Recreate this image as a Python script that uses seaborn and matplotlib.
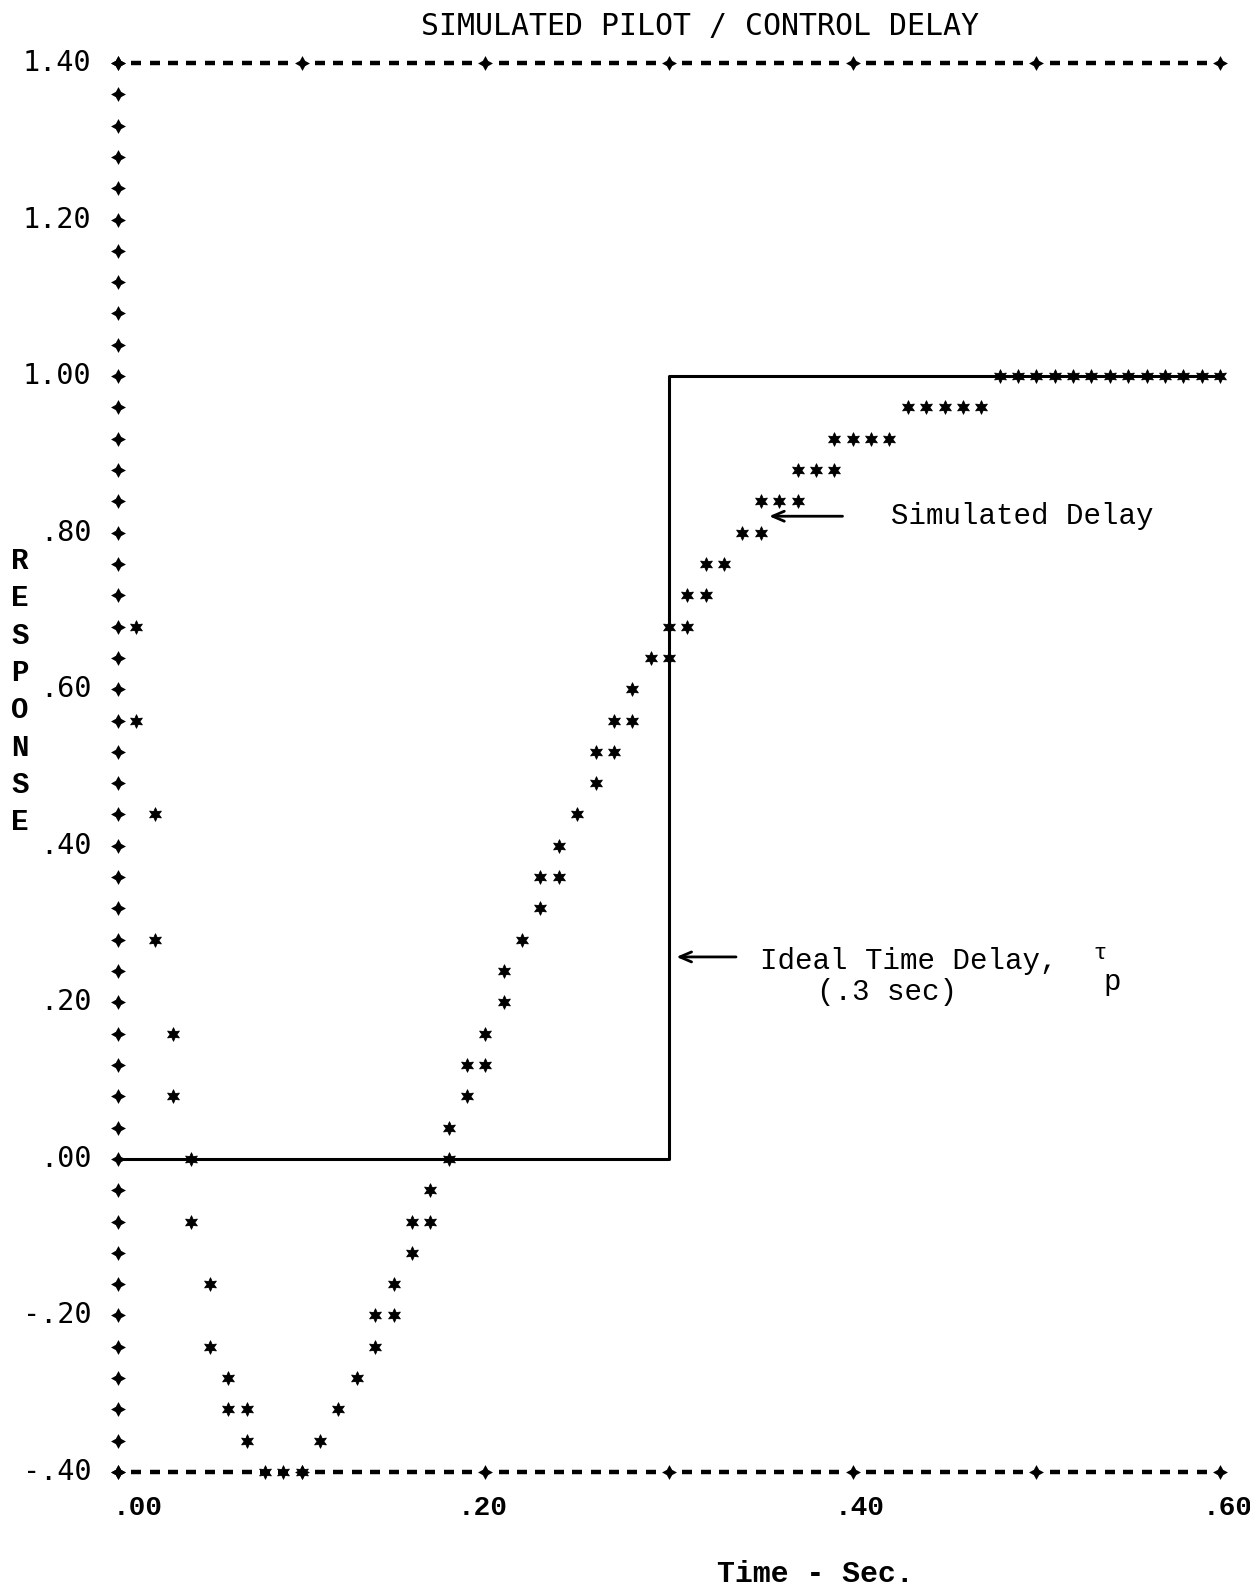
import numpy as np
import pandas as pd
import matplotlib
matplotlib.use("Agg")
import matplotlib.pyplot as plt
import seaborn as sns

# ---------------- data ----------------
resp_time = [0.01, 0.01, 0.02, 0.02, 0.03, 0.03, 0.04, 0.04, 0.05, 0.05,
             0.06, 0.06, 0.07, 0.07, 0.08, 0.09, 0.10, 0.11, 0.12, 0.13,
             0.14, 0.14, 0.15, 0.15, 0.16, 0.16, 0.17, 0.17, 0.18, 0.18,
             0.19, 0.19, 0.20, 0.20, 0.21, 0.21, 0.22, 0.23, 0.23, 0.24,
             0.24, 0.25, 0.26, 0.26, 0.27, 0.27, 0.28, 0.28, 0.29, 0.30,
             0.30, 0.31, 0.31, 0.32, 0.32, 0.33, 0.34, 0.35, 0.35, 0.36,
             0.37, 0.37, 0.38, 0.39, 0.39, 0.40, 0.41, 0.42, 0.43, 0.44,
             0.45, 0.46, 0.47, 0.48, 0.49, 0.50, 0.51, 0.52, 0.53, 0.54,
             0.55, 0.56, 0.57, 0.58, 0.59, 0.60]
resp_value = [0.68, 0.56, 0.44, 0.28, 0.16, 0.08, 0.00, -0.08, -0.16, -0.24,
              -0.28, -0.32, -0.32, -0.36, -0.40, -0.40, -0.40, -0.36, -0.32, -0.28,
              -0.24, -0.20, -0.20, -0.16, -0.12, -0.08, -0.08, -0.04, 0.00, 0.04,
              0.08, 0.12, 0.12, 0.16, 0.20, 0.24, 0.28, 0.32, 0.36, 0.36,
              0.40, 0.44, 0.48, 0.52, 0.52, 0.56, 0.56, 0.60, 0.64, 0.64,
              0.68, 0.68, 0.72, 0.72, 0.76, 0.76, 0.80, 0.80, 0.84, 0.84,
              0.84, 0.88, 0.88, 0.88, 0.92, 0.92, 0.92, 0.92, 0.96, 0.96,
              0.96, 0.96, 0.96, 1.00, 1.00, 1.00, 1.00, 1.00, 1.00, 1.00,
              1.00, 1.00, 1.00, 1.00, 1.00, 1.00]

step_time = [0.00, 0.30, 0.30, 0.60]
step_value = [0.00, 0.00, 1.00, 1.00]

y_tick_values = [1.40, 1.20, 1.00, 0.80, 0.60, 0.40, 0.20, 0.00, -0.20, -0.40]
y_tick_labels = ["1.40", "1.20", "1.00", ".80", ".60", ".40", ".20", ".00", "-.20", "-.40"]
x_tick_values = [0.00, 0.20, 0.40, 0.60]
x_tick_labels = [".00", ".20", ".40", ".60"]

# ---------------- figure ----------------
sns.set_theme(style="white")
plt.rcParams["font.family"] = ["Liberation Mono", "DejaVu Sans"]

W, H = 1250, 1592
fig = plt.figure(figsize=(W / 100, H / 100), dpi=100)
fig.patch.set_facecolor("white")
ax = fig.add_axes([118 / W, 1 - 1472 / H, 1102 / W, 1409 / H])
ax.set_xlim(0, 0.6)
ax.set_ylim(-0.4, 1.4)
ax.set_axis_off()

INK = "black"
PLUS = (4, 1, 0)
STAR = (6, 1, 0)

# printer-style frame: '+' down the left side every 0.04, top/bottom rows of '-' with '+' each 0.1
left_rows = np.round(np.arange(-0.40, 1.4001, 0.04), 2)
ax.scatter(np.zeros_like(left_rows), left_rows, marker=PLUS, s=115, color=INK,
           clip_on=False, zorder=3, linewidths=0)
cols = np.round(np.arange(0.0, 0.6001, 0.01), 2)
major = np.isclose(cols * 10, np.round(cols * 10))
for yv in (-0.40, 1.40):
    ax.scatter(cols[major], np.full(major.sum(), yv), marker=PLUS, s=115, color=INK,
               clip_on=False, zorder=3, linewidths=0)
    ax.scatter(cols[~major], np.full((~major).sum(), yv), marker="_", s=55, color=INK,
               linewidths=3.2, clip_on=False, zorder=3)

# ideal time delay step
sns.lineplot(x=step_time, y=step_value, sort=False, estimator=None, color=INK,
             linewidth=2.2, ax=ax, zorder=2)

# simulated delay response (asterisks)
df = pd.DataFrame({"Time": resp_time, "Response": resp_value})
sns.scatterplot(data=df, x="Time", y="Response", marker=STAR, s=95, color=INK,
                edgecolor=INK, linewidth=0.6, ax=ax, clip_on=False, zorder=4, legend=False)

# tick labels
for v, lab in zip(y_tick_values, y_tick_labels):
    ax.text(-0.0145, v, lab, ha="right", va="center", fontsize=20.5,
            family=["DejaVu Sans Mono", "DejaVu Sans"], color=INK)
x_label_shift = [0.0105, -0.0015, 0.004, 0.004]
for v, lab, dx in zip(x_tick_values, x_tick_labels, x_label_shift):
    ax.text(v + dx, -0.446, lab, ha="center", va="center", fontsize=20,
            fontweight="bold", color=INK)

# annotations
ax.annotate("", xy=(0.353, 0.821), xytext=(0.396, 0.821),
            arrowprops=dict(arrowstyle="->,head_length=0.7,head_width=0.3", lw=2, color=INK))
ax.text(0.421, 0.821, "Simulated Delay", ha="left", va="center", fontsize=21, color=INK)

ax.annotate("", xy=(0.3025, 0.258), xytext=(0.338, 0.258),
            arrowprops=dict(arrowstyle="->,head_length=0.7,head_width=0.3", lw=2, color=INK))
ax.text(0.3495, 0.253, "Ideal Time Delay,", ha="left", va="center", fontsize=21, color=INK)
ax.text(0.5347, 0.2625, "τ", ha="center", va="center", fontsize=16, color=INK)
ax.text(0.5412, 0.226, "p", ha="center", va="center", fontsize=21, color=INK)
ax.text(0.3806, 0.213, "(.3 sec)", ha="left", va="center", fontsize=21, color=INK)

# title and axis labels
fig.text(700 / W, 1 - 26 / H, "SIMULATED PILOT / CONTROL DELAY", ha="center", va="center",
         fontsize=21.5, family=["DejaVu Sans Mono", "DejaVu Sans"], color=INK)
fig.text(815 / W, 1 - 1574 / H, "Time - Sec.", ha="center", va="center", fontsize=21.5,
         fontweight="bold", color=INK)
for i, ch in enumerate("RESPONSE"):
    fig.text(20 / W, 1 - (561 + 37.3 * i) / H, ch, ha="center", va="center", fontsize=21,
             fontweight="bold", color=INK)

fig.savefig("out.png", dpi=100, facecolor="white")
